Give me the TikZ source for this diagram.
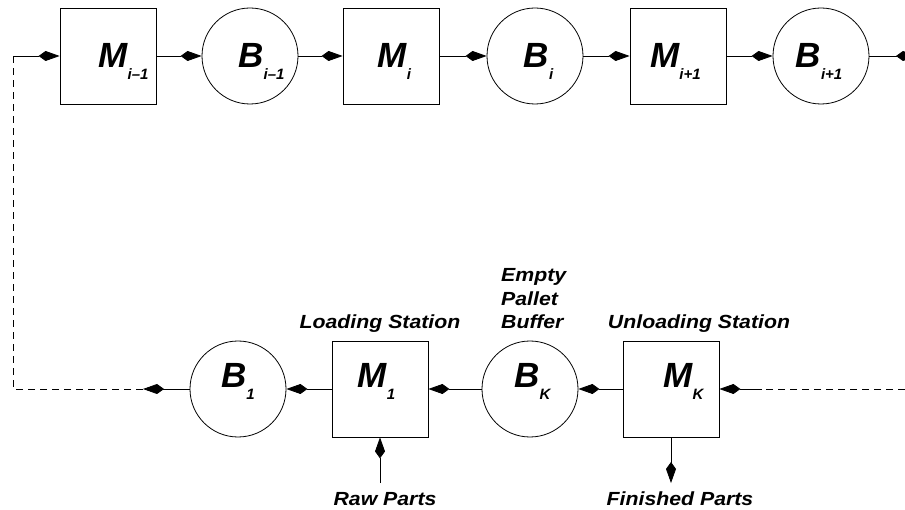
\documentclass[tikz,border=0pt]{standalone}
\usepackage{fontspec}
\setmainfont{Liberation Sans}
\newfontfamily\tagfont[FakeStretch=1.12]{Liberation Sans}
\usetikzlibrary{arrows.meta}
\newcommand{\lbl}[2]{{\fontsize{35}{35}\selectfont #1}\raisebox{-12pt}{\fontsize{15}{15}\selectfont #2}}
\begin{document}
\begin{tikzpicture}[
  x=1pt, y=-1pt,
  mach/.style={
    rectangle,
    draw,
    line width=0.8pt,
    minimum size=96pt,
    inner sep=0pt,
    font=\bfseries\itshape
  },
  buf/.style={
    circle,
    draw,
    line width=0.8pt,
    minimum size=96pt,
    inner sep=0pt,
    font=\bfseries\itshape
  },
  uprow/.style={text height=25pt, text depth=1pt},
  lowrow/.style={text height=25pt, text depth=27pt},
  tag/.style={font=\tagfont\fontsize{19}{23.5}\selectfont\bfseries\itshape, inner sep=0pt},
  flow/.style={-{Kite[length=21pt,width=10pt,inset=7pt]}, line width=0.8pt},
  ret/.style={dash pattern=on 7pt off 5pt, line width=0.8pt}
]
  \useasboundingbox (0,0) rectangle (905,510);

  % Upper line
  \node[mach, uprow] (Mim1) at (108,56) {\hspace*{31pt}\lbl{M}{i--1}};
  \node[buf, uprow] (Bim1) at (250,56) {\hspace*{23pt}\lbl{B}{i--1}};
  \node[mach, uprow] (Mi) at (391,56) {\hspace*{7pt}\lbl{M}{i}};
  \node[buf, uprow] (Bi) at (535,56) {\hspace*{7pt}\lbl{B}{i}};
  \node[mach, uprow] (Mip1) at (678,56) {\lbl{M}{i+1}\hspace*{5pt}};
  \node[buf, uprow] (Bip1) at (821,56) {\lbl{B}{i+1}\hspace*{4pt}};

  % Lower line
  \node[buf, lowrow] (B1) at (238,389) {\lbl{B}{1}};
  \node[mach, lowrow] (M1) at (380,389) {\lbl{M}{1}\hspace*{7pt}};
  \node[buf, lowrow] (BK) at (530,389) {\hspace*{5pt}\lbl{B}{K}};
  \node[mach, lowrow] (MK) at (671,389) {\hspace*{25pt}\lbl{M}{K}};

  % Labels
  \node[tag, anchor=base] (loadlbl) at (380,329) {Loading Station};
  \node[tag, anchor=south west, align=left] (emptylbl) at (501,329) {Empty\\Pallet\\Buffer};
  \node[tag, anchor=base] (unloadlbl) at (699,329) {Unloading Station};
  \node[tag, anchor=base] (rawlbl) at (385,505) {Raw Parts};
  \node[tag, anchor=base] (finlbl) at (680,505) {Finished Parts};

  % Ends
  \coordinate (topin) at (13,56);
  \coordinate (topout) at (917,56);
  \coordinate (corner) at (13,389);
  \coordinate (botout) at (143,389);
  \coordinate (botin) at (762,389);
  \coordinate (rightedge) at (905,389);
  \coordinate (rawin) at (380,483);
  \coordinate (finout) at (671,483);

  % Flow
  \draw[flow] (topin) -- (Mim1);
  \draw[flow] (Mim1) -- (Bim1);
  \draw[flow] (Bim1) -- (Mi);
  \draw[flow] (Mi) -- (Bi);
  \draw[flow] (Bi) -- (Mip1);
  \draw[flow] (Mip1) -- (Bip1);
  \draw[flow] (Bip1) -- (topout);
  \draw[flow] (botin) -- (MK);
  \draw[flow] (MK) -- (BK);
  \draw[flow] (BK) -- (M1);
  \draw[flow] (M1) -- (B1);
  \draw[flow] (B1) -- (botout);
  \draw[flow] (rawin) -- (M1);
  \draw[flow] (MK) -- (finout);

  % Pallet return
  \draw[ret] (botout) -- (corner) -- (topin);
  \draw[ret] (rightedge) -- (botin);
\end{tikzpicture}
\end{document}
